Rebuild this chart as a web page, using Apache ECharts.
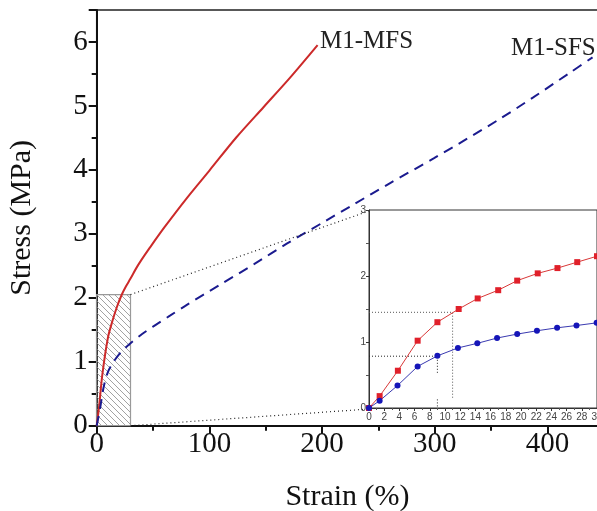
<!DOCTYPE html>
<html>
<head>
<meta charset="utf-8">
<script src="https://cdn.jsdelivr.net/npm/echarts@6/dist/echarts.min.js"></script>
<style>
html, body { margin: 0; padding: 0; background: #fff; }
#main { width: 597px; height: 511px; }
</style>
</head>
<body>
<div id="main"></div>
<script>
// main curves (strain %, stress MPa)
var mfsStrain = [0, 2, 5, 10, 14, 18, 22, 26, 30, 35, 40, 47, 60, 80, 100, 124, 148, 172, 196];
var mfsStress = [0, 0.28, 0.8, 1.38, 1.64, 1.86, 2.04, 2.18, 2.30, 2.46, 2.60, 2.78, 3.10, 3.56, 3.99, 4.51, 4.98, 5.45, 5.95];
var sfsStrain = [0, 3, 6, 10, 15, 20, 25, 30, 40, 50, 65, 80, 109, 140, 169, 200, 228, 260, 299, 328, 358, 387, 420, 440];
var sfsStress = [0, 0.27, 0.59, 0.84, 1.0, 1.12, 1.21, 1.29, 1.43, 1.55, 1.72, 1.89, 2.20, 2.53, 2.85, 3.17, 3.46, 3.79, 4.18, 4.48, 4.80, 5.13, 5.52, 5.76];

// inset points
var insetStrainMfs = [0, 1.4, 3.8, 6.4, 9.0, 11.8, 14.3, 17.0, 19.5, 22.2, 24.8, 27.4, 30.0];
var insetMfs = [0, 0.18, 0.565, 1.02, 1.30, 1.50, 1.66, 1.785, 1.93, 2.04, 2.12, 2.21, 2.30];
var insetStrainSfs = [0, 1.4, 3.75, 6.4, 9.0, 11.7, 14.25, 16.85, 19.5, 22.1, 24.75, 27.3, 29.95];
var insetSfs = [0, 0.11, 0.34, 0.63, 0.79, 0.91, 0.98, 1.06, 1.12, 1.17, 1.215, 1.25, 1.29];

// dotted guides in the inset
var guideMfs = [[0, 1.45], [11, 1.45], [11, 0.14]];
var guideSfs = [[0, 0.785], [9, 0.785], [9, 0.52], '-', [9, 0.13], [9, 0]];

// zoomed box
var boxStrain = [0, 30];
var boxStress = [0, 2.05];

var xTicks = [0, 100, 200, 300, 400];
var yTicks = [0, 1, 2, 3, 4, 5, 6];

function pairs(xs, ys) {
    var out = [];
    for (var i = 0; i < xs.length; i++) out.push([xs[i], ys[i]]);
    return out;
}

// hatch pattern
var hatch = document.createElement('canvas');
hatch.width = 6; hatch.height = 6;
var hc = hatch.getContext('2d');
hc.strokeStyle = '#8a8a8a';
hc.lineWidth = 0.8;
hc.beginPath();
hc.moveTo(-1, -1); hc.lineTo(7, 7);
hc.moveTo(-1, 5); hc.lineTo(1, 7);
hc.moveTo(5, -1); hc.lineTo(7, 1);
hc.stroke();

var serif = '"Liberation Serif", "Times New Roman", serif';
var sans = '"Liberation Sans", Arial, sans-serif';

var inset = { left: 369, top: 210, width: 228, height: 198 };

var chart = echarts.init(document.getElementById('main'), null, { renderer: 'canvas' });

var option = {
    backgroundColor: '#fff',
    animation: false,
    grid: [
        { left: 96.7, top: 10, width: 501.5, height: 415.7, show: true, borderColor: '#222', borderWidth: 1.5,
          backgroundColor: 'transparent', outerBoundsMode: 'none', containLabel: false },
        { left: inset.left, top: inset.top, width: inset.width, height: inset.height, show: true, borderColor: '#333',
          borderWidth: 1, backgroundColor: '#fff', z: 5, outerBoundsMode: 'none', containLabel: false }
    ],
    xAxis: [
        {
            gridIndex: 0, type: 'value', min: 0, max: 445, interval: 100,
            name: 'Strain (%)', nameLocation: 'middle', nameGap: 56,
            nameTextStyle: { fontFamily: serif, fontSize: 30, color: '#111' },
            axisLine: { lineStyle: { color: '#111', width: 2 } },
            axisTick: { length: 8, lineStyle: { color: '#111', width: 2 } },
            minorTick: { show: true, splitNumber: 2, length: 5, lineStyle: { color: '#111', width: 2 } },
            axisLabel: { fontFamily: serif, fontSize: 29, color: '#111', margin: 4,
                formatter: function (v) { return xTicks.indexOf(v) >= 0 ? String(v) : ''; } },
            splitLine: { show: false }
        },
        {
            gridIndex: 1, type: 'value', min: 0, max: 30, interval: 2, z: 6,
            axisLine: { lineStyle: { color: '#333', width: 1 } },
            axisTick: { length: 3, lineStyle: { color: '#333' } },
            minorTick: { show: true, splitNumber: 2, length: 2, lineStyle: { color: '#555' } },
            axisLabel: { fontFamily: sans, fontSize: 10, color: '#444', margin: 4 },
            splitLine: { show: false }
        }
    ],
    yAxis: [
        {
            gridIndex: 0, type: 'value', min: 0, max: 6.5, interval: 1,
            name: 'Stress (MPa)', nameLocation: 'middle', nameGap: 60,
            nameTextStyle: { fontFamily: serif, fontSize: 30, color: '#111' },
            axisLine: { lineStyle: { color: '#111', width: 2 } },
            axisTick: { length: 8, lineStyle: { color: '#111', width: 2 } },
            minorTick: { show: true, splitNumber: 2, length: 5, lineStyle: { color: '#111', width: 2 } },
            axisLabel: { fontFamily: serif, fontSize: 29, color: '#111', margin: 9,
                formatter: function (v) { return yTicks.indexOf(v) >= 0 ? String(v) : ''; } },
            splitLine: { show: false }
        },
        {
            gridIndex: 1, type: 'value', min: 0, max: 3, interval: 1, z: 6,
            axisLine: { lineStyle: { color: '#333', width: 1 } },
            axisTick: { length: 3, lineStyle: { color: '#333' } },
            minorTick: { show: true, splitNumber: 2, length: 3, lineStyle: { color: '#555' } },
            axisLabel: { fontFamily: sans, fontSize: 10, color: '#444', margin: 3 },
            splitLine: { show: false }
        }
    ],
    series: [
        {
            name: 'M1-MFS', type: 'line', xAxisIndex: 0, yAxisIndex: 0, z: 3,
            data: pairs(mfsStrain, mfsStress), smooth: 0.3, symbol: 'none',
            lineStyle: { color: '#cc2a2a', width: 2 },
            markArea: {
                silent: true,
                itemStyle: { color: { image: hatch, repeat: 'repeat' }, borderColor: '#999', borderWidth: 1.2 },
                data: [[{ coord: [boxStrain[0], boxStress[0]] }, { coord: [boxStrain[1], boxStress[1]] }]]
            }
        },
        {
            name: 'M1-SFS', type: 'line', xAxisIndex: 0, yAxisIndex: 0, z: 3,
            data: pairs(sfsStrain, sfsStress), smooth: 0.3, symbol: 'none',
            lineStyle: { color: '#1b1b8f', width: 2, type: [10, 7] }
        },
        {
            name: 'guideMfs', type: 'line', xAxisIndex: 1, yAxisIndex: 1, z: 6,
            data: guideMfs, symbol: 'none', silent: true,
            lineStyle: { color: '#555', width: 1, type: [1, 2] }
        },
        {
            name: 'guideSfs', type: 'line', xAxisIndex: 1, yAxisIndex: 1, z: 6,
            data: guideSfs, symbol: 'none', silent: true, connectNulls: false,
            lineStyle: { color: '#222', width: 1, type: [1, 2] }
        },
        {
            name: 'inset MFS', type: 'line', xAxisIndex: 1, yAxisIndex: 1, z: 7,
            data: pairs(insetStrainMfs, insetMfs), symbol: 'rect', symbolSize: 6,
            itemStyle: { color: '#e0202a' }, lineStyle: { color: '#d83838', width: 1 },
            showAllSymbol: true
        },
        {
            name: 'inset SFS', type: 'line', xAxisIndex: 1, yAxisIndex: 1, z: 7,
            data: pairs(insetStrainSfs, insetSfs), symbol: 'circle', symbolSize: 6,
            itemStyle: { color: '#1515b8' }, lineStyle: { color: '#3a3ab0', width: 1 },
            showAllSymbol: true
        }
    ],
    graphic: [
        { type: 'text', z: 10, style: { x: 320, y: 41, text: 'M1-MFS', font: '25px ' + serif, fill: '#222', verticalAlign: 'middle' } },
        { type: 'text', z: 10, style: { x: 511, y: 48, text: 'M1-SFS', font: '25px ' + serif, fill: '#222', verticalAlign: 'middle' } }
    ]
};

chart.setOption(option);

// connector lines from the hatched box to the inset corners
var topCorner = chart.convertFromPixel({ gridIndex: 0 }, [inset.left, inset.top + 1]);
var botCorner = chart.convertFromPixel({ gridIndex: 0 }, [inset.left, inset.top + inset.height + 1]);
chart.setOption({
    series: [{
        name: 'M1-MFS',
        markLine: {
            silent: true, symbol: 'none', label: { show: false },
            lineStyle: { color: '#222', width: 1.2, type: [1, 3] },
            data: [
                [{ coord: [boxStrain[1], boxStress[1]] }, { coord: topCorner }],
                [{ coord: [boxStrain[1], boxStress[0]] }, { coord: botCorner }]
            ]
        }
    }]
});
</script>
</body>
</html>
